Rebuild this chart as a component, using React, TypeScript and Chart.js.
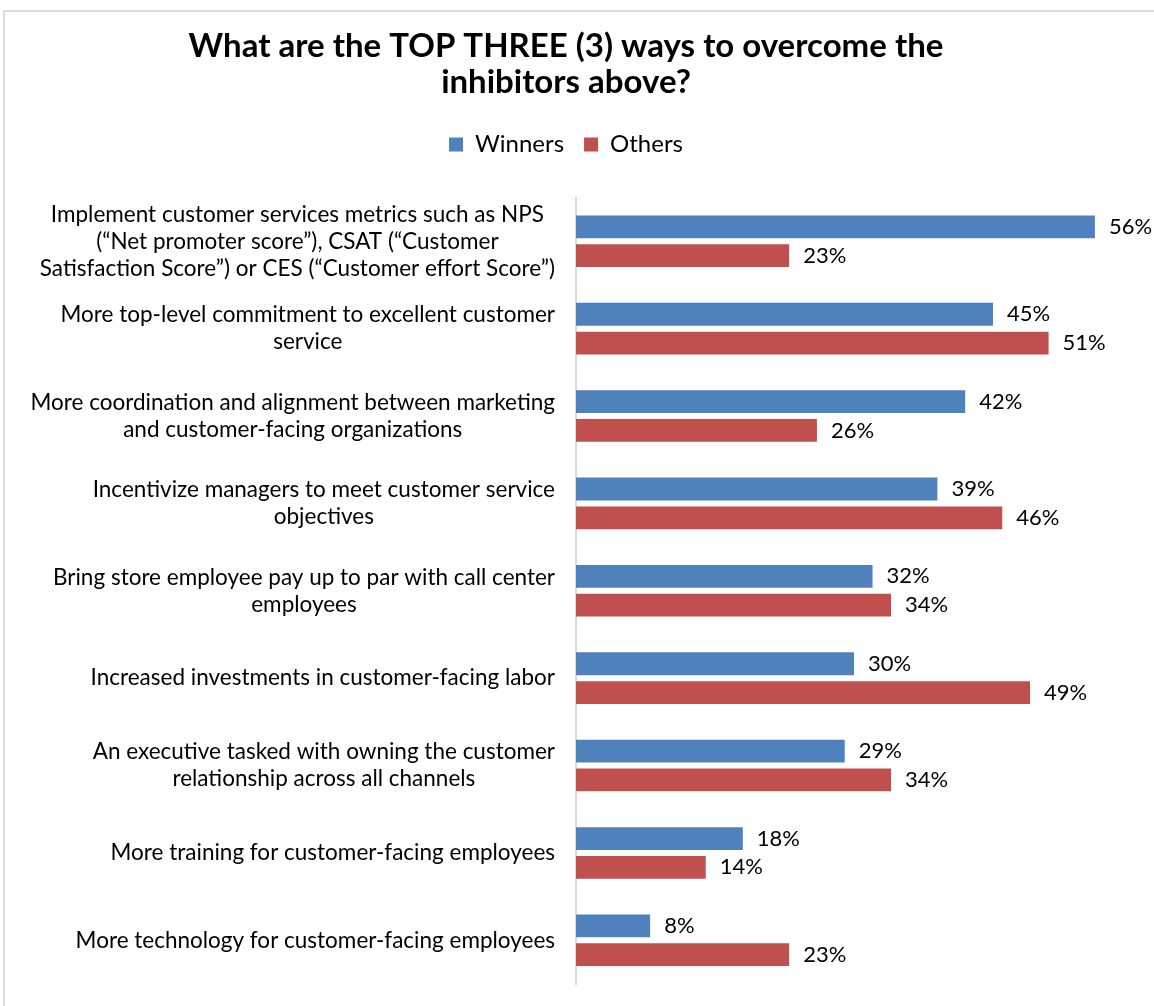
import React, { useEffect, useRef } from "react";
import { Chart, registerables } from "chart.js";

Chart.register(...registerables);

const categories: string[][] = [
  ["Implement customer services metrics such as NPS", "(\u201CNet promoter score\u201D), CSAT (\u201CCustomer", "Satisfaction Score\u201D) or CES (\u201CCustomer effort Score\u201D)"],
  ["More top-level commitment to excellent customer", "service"],
  ["More coordination and alignment between marketing", "and customer-facing organizations"],
  ["Incentivize managers to meet customer service", "objectives"],
  ["Bring store employee pay up to par with call center", "employees"],
  ["Increased investments in customer-facing labor"],
  ["An executive tasked with owning the customer", "relationship across all channels"],
  ["More training for customer-facing employees"],
  ["More technology for customer-facing employees"],
];

const winners: number[] = [56, 45, 42, 39, 32, 30, 29, 18, 8];
const others: number[] = [23, 51, 26, 46, 34, 49, 34, 14, 23];

const titleLines: string[] = ["What are the TOP THREE (3) ways to overcome the", "inhibitors above?"];
const seriesNames: string[] = ["Winners", "Others"];

const FONT = "Lato, 'Open Sans', sans-serif";
const BLUE = "#4F81BD";
const RED = "#C0504D";

const catLabelPlugin = {
  id: "catLabels",
  afterDraw(chart: any) {
    const ctx = chart.ctx;
    const yScale = chart.scales.y;
    const right = chart.chartArea.left - 21;
    ctx.save();
    ctx.font = `22.5px ${FONT}`;
    ctx.fillStyle = "#000";
    ctx.textAlign = "center";
    ctx.textBaseline = "middle";
    const lh = 27;
    categories.forEach((lines, i) => {
      const cy = yScale.getPixelForTick(i);
      const maxW = Math.max(...lines.map((l) => ctx.measureText(l).width));
      const cx = right - maxW / 2;
      const y0 = cy - ((lines.length - 1) * lh) / 2;
      lines.forEach((l, j) => ctx.fillText(l, cx, y0 + j * lh));
    });
    ctx.restore();
  },
};

const valueLabelPlugin = {
  id: "valueLabels",
  afterDatasetsDraw(chart: any) {
    const ctx = chart.ctx;
    ctx.save();
    ctx.font = `22px ${FONT}`;
    ctx.fillStyle = "#000";
    ctx.textAlign = "left";
    ctx.textBaseline = "middle";
    chart.data.datasets.forEach((ds: any, di: number) => {
      const meta = chart.getDatasetMeta(di);
      meta.data.forEach((el: any, i: number) => {
        ctx.fillText(`${ds.data[i]}%`, el.x + 14, el.y);
      });
    });
    ctx.restore();
  },
};

const legendMarginPlugin = {
  id: "legendMargin",
  beforeInit(chart: any) {
    const legend = chart.legend;
    if (!legend) return;
    const orig = legend.fit;
    legend.fit = function () {
      orig.bind(legend)();
      this.height += 31;
    };
  },
};

export default function App() {
  const ref = useRef<HTMLCanvasElement | null>(null);
  useEffect(() => {
    if (!ref.current) return;
    const chart = new Chart(ref.current, {
      type: "bar",
      data: {
        labels: categories.map((c) => c.join(" ")),
        datasets: [
          { label: seriesNames[0], data: winners, backgroundColor: BLUE, categoryPercentage: 0.66, barPercentage: 0.79 },
          { label: seriesNames[1], data: others, backgroundColor: RED, categoryPercentage: 0.66, barPercentage: 0.79 },
        ],
      },
      options: {
        indexAxis: "y",
        responsive: false,
        animation: false,
        layout: { padding: { left: 0, right: 22, top: 0, bottom: 22 } },
        scales: {
          x: { display: false, min: 0, max: 60 },
          y: {
            ticks: { display: false },
            grid: { display: false },
            border: { display: true, color: "#d9d9d9", width: 2 },
            afterFit: (s: any) => {
              s.width = 576;
            },
          },
        },
        plugins: {
          title: {
            display: true,
            text: titleLines,
            color: "#000",
            font: { family: FONT, size: 33, weight: "bold", lineHeight: 1.1 },
            padding: { top: 28, bottom: 12 },
          },
          legend: {
            display: true,
            position: "top",
            labels: {
              boxWidth: 14,
              boxHeight: 14,
              color: "#000",
              font: { family: FONT, size: 24 },
              padding: 20,
            },
          },
          tooltip: { enabled: false },
        },
      },
      plugins: [catLabelPlugin, valueLabelPlugin, legendMarginPlugin],
    });
    return () => chart.destroy();
  }, []);
  return (
    <div style={{ position: "fixed", left: 0, top: 0, width: 1154, height: 1006, overflow: "hidden", background: "#fff" }}>
      <div style={{ position: "absolute", left: 3, top: 10, width: 1200, height: 1100, border: "2px solid #dcdcdc" }} />
      <canvas ref={ref} width={1154} height={1006} style={{ position: "absolute", left: 0, top: 0 }} />
    </div>
  );
}
